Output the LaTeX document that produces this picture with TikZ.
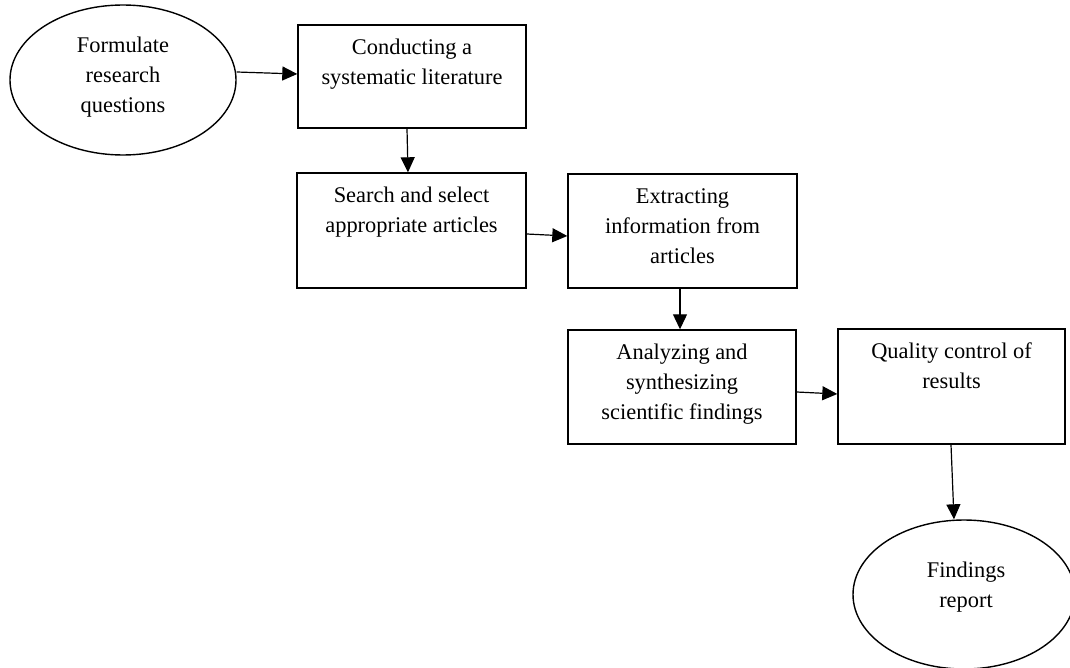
\documentclass[tikz,border=0pt]{standalone}
\usepackage{fontspec}
\setmainfont{Liberation Serif}
\usetikzlibrary{arrows.meta,calc,shapes.geometric}
\begin{document}
\begin{tikzpicture}[x=0.5pt,y=-0.5pt,
  box/.style={draw, rectangle, line width=0.7pt, inner sep=0pt},
  oval/.style={draw, ellipse, line width=0.7pt, inner sep=0pt},
  txt/.style={anchor=base, inner sep=0pt, font=\fontsize{11.2}{15}\selectfont},
  arr/.style={line width=0.6pt, -{Triangle[length=7.5pt,width=7pt]}}]
\useasboundingbox (0,0) rectangle (1070,668);

% shapes
\node[oval, minimum width=113pt, minimum height=75pt] (e1) at (123,80) {};
\node[box, minimum width=114pt, minimum height=51.5pt] (b1) at (412,76.5) {};
\node[box, minimum width=114.5pt, minimum height=57.5pt] (b2) at (411.5,230.5) {};
\node[box, minimum width=114.5pt, minimum height=57pt] (b3) at (682.5,231) {};
\node[box, minimum width=114pt, minimum height=57pt] (b4) at (682,387) {};
\node[box, minimum width=113.5pt, minimum height=57.5pt] (b5) at (951.5,386.5) {};
\node[oval, minimum width=111pt, minimum height=74.5pt] (e2) at (964,594.5) {};

% texts
\node[txt] (t0) at ($(e1.center)+(0,-27)$) {\parbox[t]{100pt}{\centering Formulate\\research\\questions}};
\node[txt] (t1) at ($(b1.north)+(0,30)$) {\parbox[t]{112pt}{\centering Conducting a\\systematic literature}};
\node[txt] (t2) at ($(b2.north)+(0,30)$) {\parbox[t]{112pt}{\centering Search and select\\appropriate articles}};
\node[txt] (t3) at ($(b3.north)+(0,30)$) {\parbox[t]{112pt}{\centering Extracting\\information from\\articles}};
\node[txt] (t4) at ($(b4.north)+(0,30)$) {\parbox[t]{112pt}{\centering Analyzing and\\synthesizing\\scientific findings}};
\node[txt] (t5) at ($(b5.north)+(0,30)$) {\parbox[t]{112pt}{\centering Quality control of\\results}};
\node[txt] (t6) at ($(e2.center)+(2,-17.5)$) {\parbox[t]{100pt}{\centering Findings\\report}};

% connectors
\draw[arr] ($(e1.east)+(0,-8)$) -- ($(b1.west)+(0,-2.5)$);
\draw[arr] ($(b1.south)+(-5,0)$) -- ($(b2.north)+(-3.5,0)$);
\draw[arr] ($(b2.east)+(0,3.5)$) -- ($(b3.west)+(0,5)$);
\draw[arr] ($(b3.south)+(-2.5,0)$) -- ($(b4.north)+(-2,0)$);
\draw[arr] ($(b4.east)+(0,5)$) -- ($(b5.west)+(0,7.5)$);
\draw[arr] ($(b5.south)+(-0.5,0)$) -- ($(e2.north)+(-10,0)$);
\end{tikzpicture}
\end{document}
